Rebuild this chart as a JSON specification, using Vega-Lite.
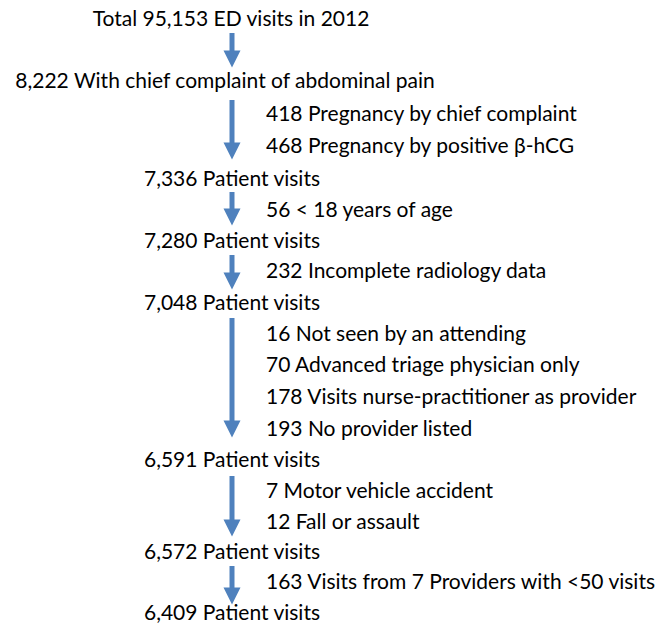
{
  "$schema": "https://vega.github.io/schema/vega-lite/v6.json",
  "width": 672,
  "height": 631,
  "padding": 0,
  "autosize": {"type": "fit", "contains": "padding"},
  "background": "white",
  "config": {"view": {"stroke": null}},
  "datasets": {
    "nodes": [
      {"x": 231, "y": 20, "label": "Total 95,153 ED visits in 2012"},
      {"x": 225, "y": 82, "label": "8,222 With chief complaint of abdominal pain"},
      {"x": 232, "y": 180, "label": "7,336 Patient visits"},
      {"x": 232, "y": 242, "label": "7,280 Patient visits"},
      {"x": 232, "y": 304, "label": "7,048 Patient visits"},
      {"x": 232, "y": 461, "label": "6,591 Patient visits"},
      {"x": 232, "y": 553, "label": "6,572 Patient visits"},
      {"x": 232, "y": 614, "label": "6,409 Patient visits"}
    ],
    "notes": [
      {"x": 266, "y": 115, "label": "418 Pregnancy by chief complaint"},
      {"x": 266, "y": 147, "label": "468 Pregnancy by positive β-hCG"},
      {"x": 266, "y": 211, "label": "56 < 18 years of age"},
      {"x": 266, "y": 272, "label": "232 Incomplete radiology data"},
      {"x": 266, "y": 335, "label": "16 Not seen by an attending"},
      {"x": 266, "y": 366, "label": "70 Advanced triage physician only"},
      {"x": 266, "y": 398, "label": "178 Visits nurse-practitioner as provider"},
      {"x": 266, "y": 430, "label": "193 No provider listed"},
      {"x": 266, "y": 492, "label": "7 Motor vehicle accident"},
      {"x": 266, "y": 523, "label": "12 Fall or assault"},
      {"x": 266, "y": 583, "label": "163 Visits from 7 Providers with <50 visits"}
    ],
    "arrows": [
      {"x": 232, "top": 33, "shaftEnd": 54, "head": 59},
      {"x": 232, "top": 100, "shaftEnd": 146, "head": 151},
      {"x": 232, "top": 192, "shaftEnd": 212, "head": 217},
      {"x": 232, "top": 255, "shaftEnd": 276, "head": 281},
      {"x": 232, "top": 318, "shaftEnd": 424, "head": 429},
      {"x": 232, "top": 476, "shaftEnd": 523, "head": 528},
      {"x": 232, "top": 566, "shaftEnd": 591, "head": 596}
    ]
  },
  "layer": [
    {
      "data": {"name": "arrows"},
      "mark": {"type": "rule", "color": "#4F81BD", "strokeWidth": 5},
      "encoding": {
        "x": {"field": "x", "type": "quantitative", "scale": {"domain": [0, 672]}, "axis": null},
        "y": {"field": "top", "type": "quantitative", "scale": {"domain": [0, 631], "reverse": true}, "axis": null},
        "y2": {"field": "shaftEnd"}
      }
    },
    {
      "data": {"name": "arrows"},
      "mark": {"type": "point", "shape": "M-1,-1L1,-1L0,1Z", "filled": true, "color": "#4F81BD", "opacity": 1, "size": 289, "strokeWidth": 0},
      "encoding": {
        "x": {"field": "x", "type": "quantitative", "scale": {"domain": [0, 672]}, "axis": null},
        "y": {"field": "head", "type": "quantitative", "scale": {"domain": [0, 631], "reverse": true}, "axis": null}
      }
    },
    {
      "data": {"name": "nodes"},
      "mark": {"type": "text", "font": "Lato", "fontSize": 21, "align": "center", "baseline": "middle", "color": "black"},
      "encoding": {
        "x": {"field": "x", "type": "quantitative", "scale": {"domain": [0, 672]}, "axis": null},
        "y": {"field": "y", "type": "quantitative", "scale": {"domain": [0, 631], "reverse": true}, "axis": null},
        "text": {"field": "label"}
      }
    },
    {
      "data": {"name": "notes"},
      "mark": {"type": "text", "font": "Lato", "fontSize": 21, "align": "left", "baseline": "middle", "color": "black"},
      "encoding": {
        "x": {"field": "x", "type": "quantitative", "scale": {"domain": [0, 672]}, "axis": null},
        "y": {"field": "y", "type": "quantitative", "scale": {"domain": [0, 631], "reverse": true}, "axis": null},
        "text": {"field": "label"}
      }
    }
  ]
}
